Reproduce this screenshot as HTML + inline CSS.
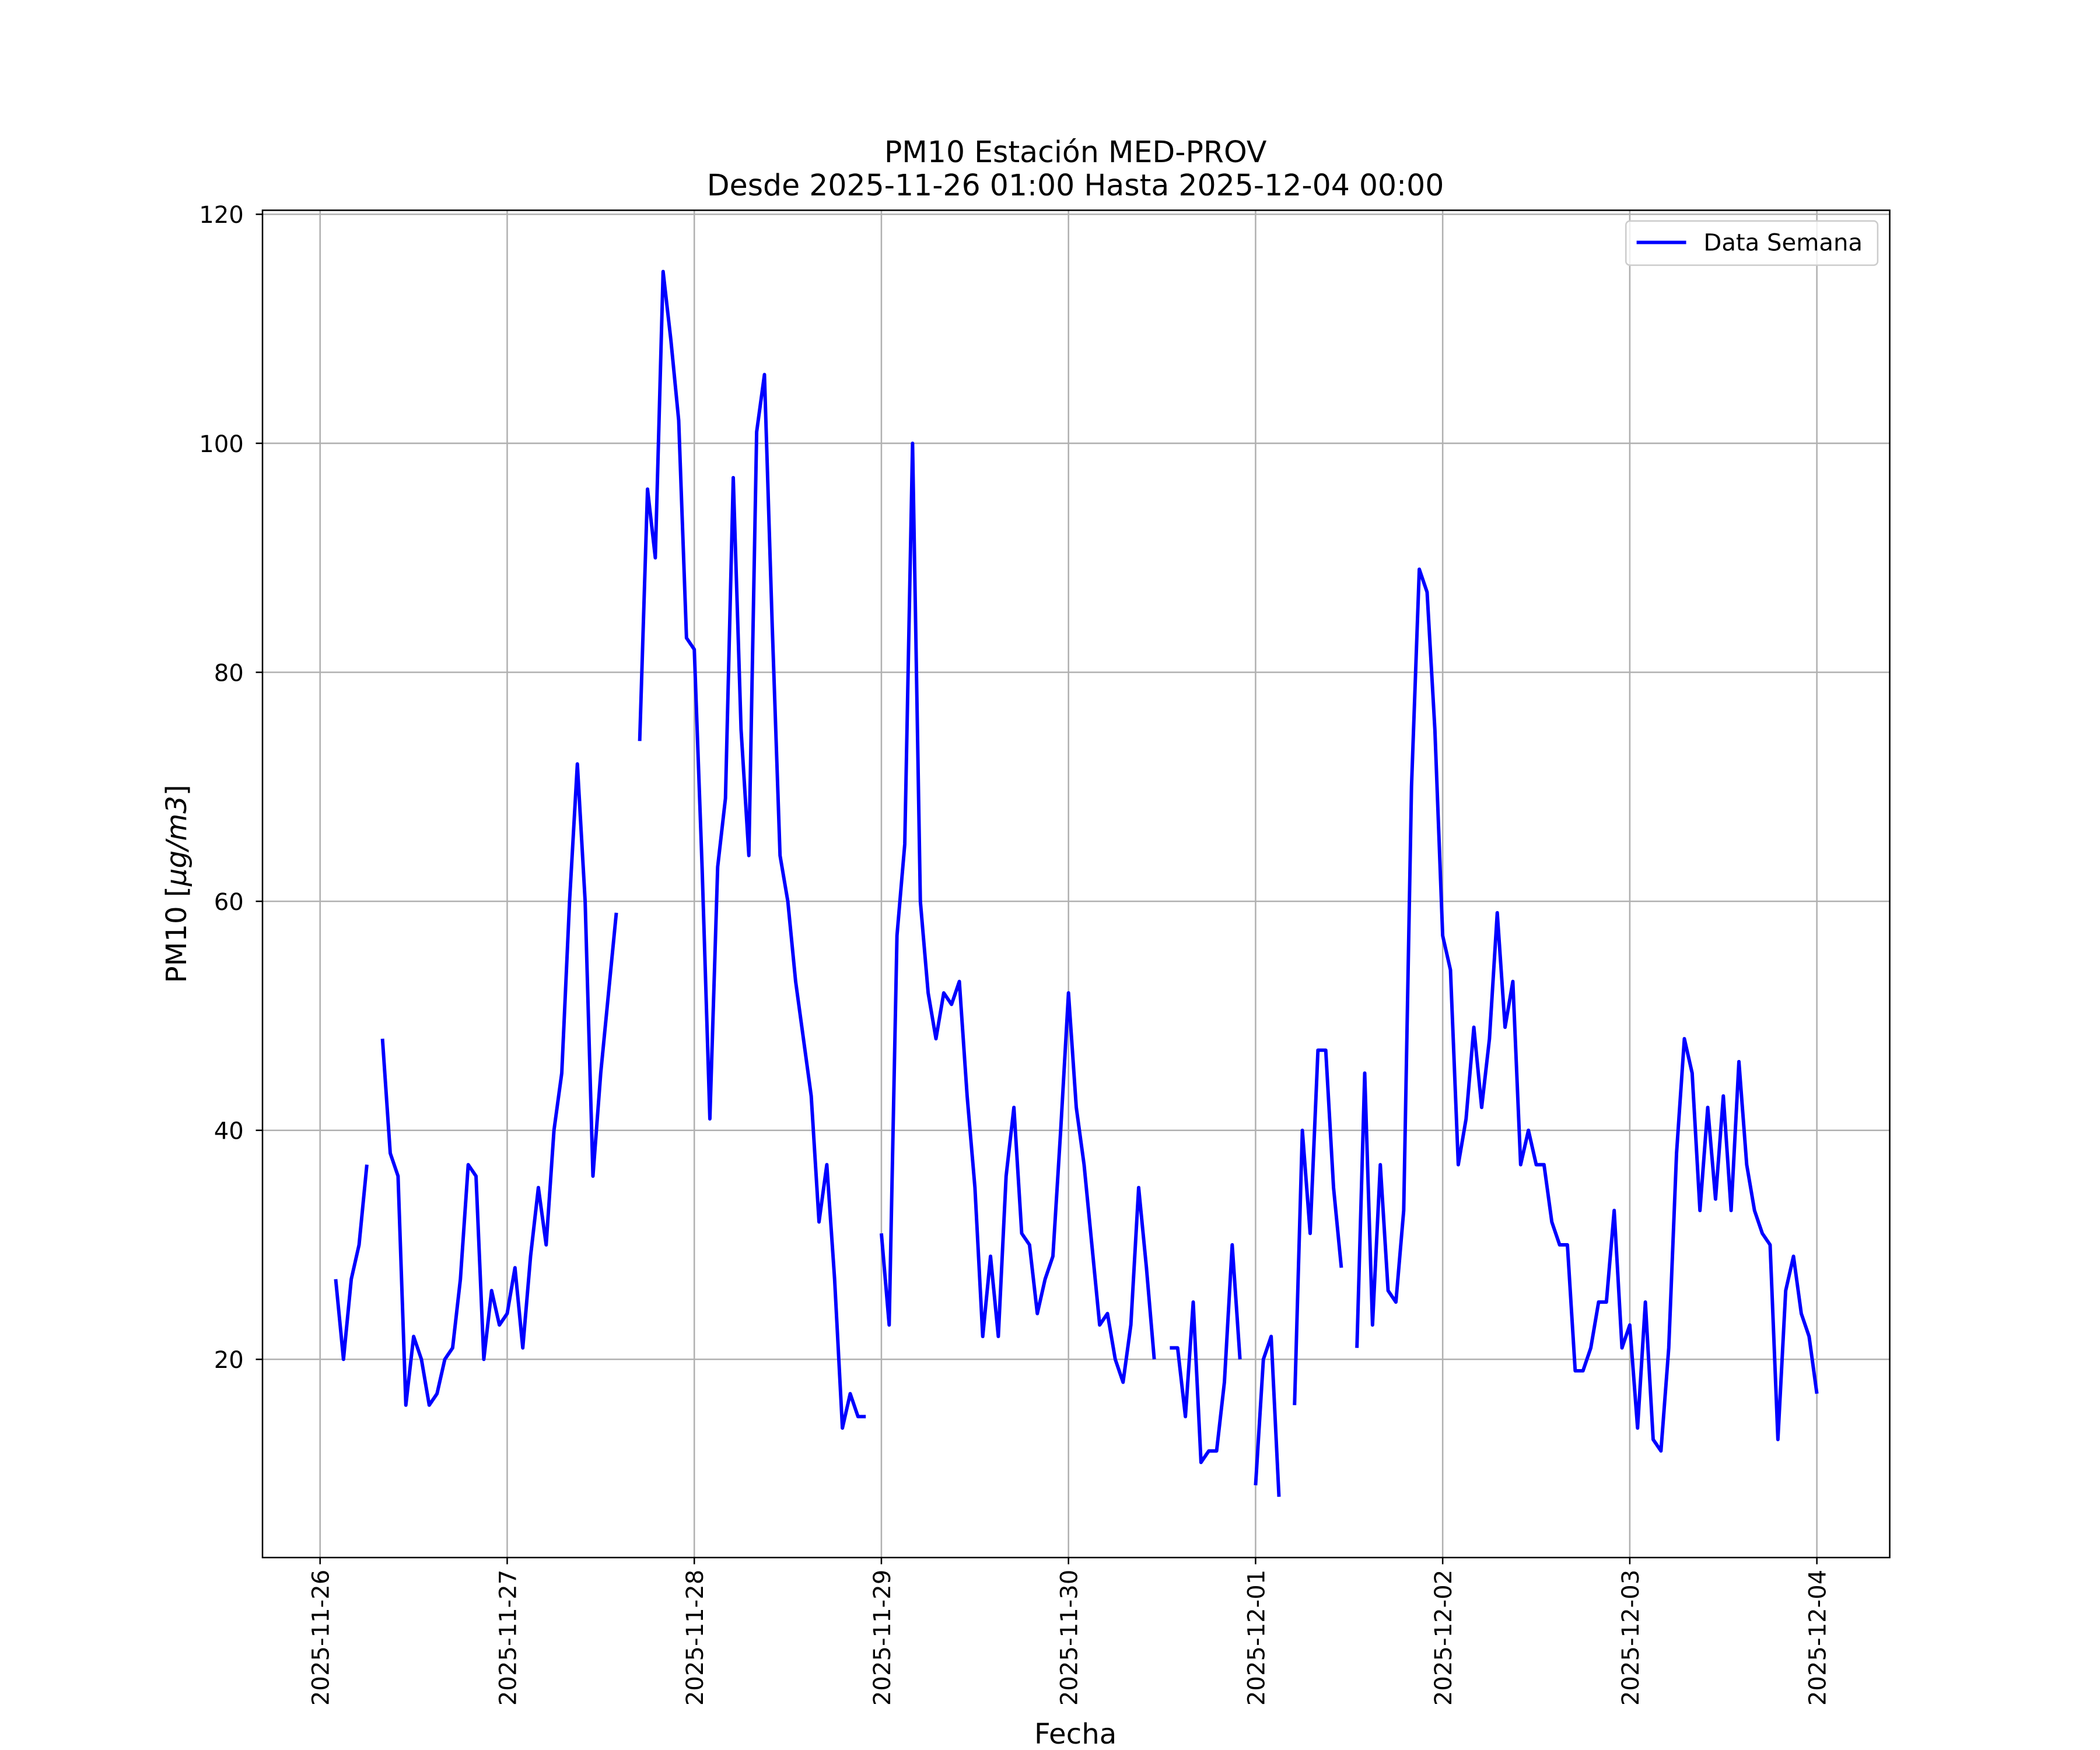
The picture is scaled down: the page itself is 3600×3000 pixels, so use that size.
<!DOCTYPE html>
<html><head><meta charset="utf-8"><style>
html,body{margin:0;padding:0;background:#fff;}
svg{display:block;font-family:"DejaVu Sans","Liberation Sans",sans-serif;}
</style></head><body>
<svg id="chart" width="3600" height="3000" viewBox="0 0 1568 1306.7" preserveAspectRatio="none" xmlns="http://www.w3.org/2000/svg">
<rect x="0" y="0" width="1568" height="1306.7" fill="#fff"/>
<g id="grid"></g>
<g id="series"></g>
<rect x="196" y="157" width="1215" height="1006" fill="none" stroke="#000" stroke-width="1.1"/>
<g id="xticks"></g>
<g id="yticks"></g>
<text x="803" y="121" font-size="22" text-anchor="middle">PM10 Estación MED-PROV</text>
<text x="803" y="146" font-size="22" text-anchor="middle">Desde 2025-11-26 01:00 Hasta 2025-12-04 00:00</text>
<text x="803" y="1302" font-size="21" text-anchor="middle">Fecha</text>
<text transform="translate(139,660) rotate(-90)" font-size="21" text-anchor="middle">PM10 [<tspan font-style="italic">μg/m3</tspan>]</text>
<g>
<rect x="1214" y="165" width="188" height="33" rx="3" fill="#fff" fill-opacity="0.8" stroke="#ccc" stroke-width="1.1"/>
<line x1="1222" y1="181" x2="1259" y2="181" stroke="#0000ff" stroke-width="2.6"/>
<text x="1272" y="187" font-size="17.5">Data Semana</text>
</g>
</svg>
<script>
const tickDates = ["2025-11-26","2025-11-27","2025-11-28","2025-11-29","2025-11-30","2025-12-01","2025-12-02","2025-12-03","2025-12-04"];
const yTicks = [20,40,60,80,100,120];
// hourly values, hour h = index+1 after 2025-11-26 00:00
const values = [null,27,20,27,30,37,null,48,38,36,16,22,20,16,17,20,21,27,37,36,20,26,23,24,
28,21,29,35,30,40,45,60,72,60,36,45,52,59,null,null,74,96,90,115,109,102,83,82,
63,41,63,69,97,75,64,101,106,84,64,60,53,48,43,32,37,27,14,17,15,15,null,31,
23,57,65,100,60,52,48,52,51,53,43,35,22,29,22,36,42,31,30,24,27,29,40,52,
42,37,30,23,24,20,18,23,35,28,20,null,21,21,15,25,11,12,12,18,30,20,null,9,
20,22,8,null,16,40,31,47,47,35,28,null,21,45,23,37,26,25,33,70,89,87,75,57,
54,37,41,49,42,48,59,49,53,37,40,37,37,32,30,30,19,19,21,25,25,33,21,23,
14,25,13,12,21,38,48,45,33,42,34,43,33,46,37,33,31,30,13,26,29,24,22,17];
const NS="http://www.w3.org/2000/svg";
const X0=239, DAYW=139.7, Y20=1015, PER=171/20;
const xs = h => X0 + h*DAYW/24;
const ys = v => Y20 - (v-20)*PER;
const grid=document.getElementById('grid'), xt=document.getElementById('xticks'), yt=document.getElementById('yticks'), ser=document.getElementById('series');
function mk(tag,attrs,parent){const e=document.createElementNS(NS,tag);for(const k in attrs)e.setAttribute(k,attrs[k]);parent.appendChild(e);return e;}
tickDates.forEach((d,i)=>{
  const x=xs(i*24);
  const g=mk('line',{x1:x,x2:x,y1:157,y2:1163,stroke:'#b0b0b0','stroke-width':1.1},grid);
  
  
  const t=mk('line',{x1:x,x2:x,y1:1163,y2:1168,stroke:'#000','stroke-width':1.1},xt);
  
  
  const l=mk('text',{transform:`translate(${x+6.5},1172) rotate(-90)`,'font-size':17.5,'text-anchor':'end'},xt);
  l.textContent=d;
  
  
});
yTicks.forEach(v=>{
  const y=ys(v);
  const g=mk('line',{x1:196,x2:1411,y1:y,y2:y,stroke:'#b0b0b0','stroke-width':1.1},grid);
  
  
  const t=mk('line',{x1:191,x2:196,y1:y,y2:y,stroke:'#000','stroke-width':1.1},yt);
  
  
  const l=mk('text',{x:182,y:y+6.5,'font-size':17.5,'text-anchor':'end'},yt);
  l.textContent=v;
  
  
});
let d='', pen=false;
values.forEach((v,i)=>{
  if(v===null){pen=false;return;}
  d+=(pen?'L':'M')+xs(i+1).toFixed(2)+' '+ys(v).toFixed(2)+' ';
  pen=true;
});
const p=mk('path',{d:d,fill:'none',stroke:'#0000ff','stroke-width':2.6,'stroke-linejoin':'round'},ser);


</script>
</body></html>
